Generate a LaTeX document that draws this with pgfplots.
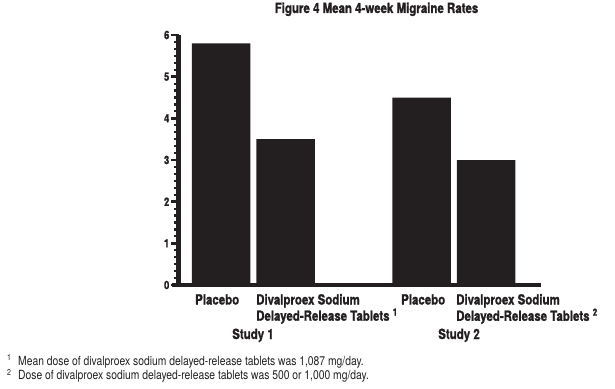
\documentclass[border=0pt]{standalone}
\usepackage{pgfplots}
\pgfplotsset{compat=1.18}
\usepackage{fontspec}
\setmainfont{TeX Gyre Heros}[FakeStretch=0.82, BoldFeatures={FakeBold=1.2}]
\definecolor{barblack}{HTML}{231F20}
\newcommand{\twolines}[2]{\vtop{\baselineskip=14.3pt\hbox{#1}\hbox{#2}}}
\begin{document}
\begin{tikzpicture}
\useasboundingbox (-178.5pt,-103pt) rectangle (436.5pt,285pt);
\begin{axis}[
  at={(0pt,0pt)}, anchor=south west,
  scale only axis, width=362.5pt, height=250pt,
  xmin=0, xmax=362.5, ymin=0, ymax=6,
  clip=false,
  axis x line*=bottom, axis y line*=left,
  axis line style={line width=4.5pt, color=barblack},
  x axis line style={line width=4.5pt, color=barblack},
  y axis line style={line width=4.5pt, color=barblack},
  xtick=\empty,
  ytick={0,1,2,3,4,5,6}, minor y tick num=5,
  tick align=outside,
  major tick length=7.5pt, minor tick length=5pt,
  major tick style={line width=2.6pt, color=barblack},
  minor tick style={line width=2.2pt, color=barblack},
  /pgf/number format/assume math mode=true,
  yticklabel style={font=\bfseries\fontsize{11.5}{12}\selectfont, text=barblack, inner sep=1.5pt},
]
\addplot[ybar, bar width=58.5, fill=barblack, draw=none] coordinates {(42.5,5.8) (107,3.5) (243,4.5) (307.5,3.0)};
\end{axis}
\draw[barblack, line width=4.5pt] (-7pt,0pt) -- (0pt,0pt);
\draw[barblack, line width=4.5pt] (0pt,-2.25pt) -- (0pt,250pt);
\begin{scope}[every node/.style={inner sep=0pt, text=barblack}]
\node[anchor=base] at (198pt,272pt) {\bfseries\fontsize{14}{16}\selectfont Figure 4 Mean 4-week Migraine Rates};
\node[anchor=base west] at (16.5pt,-19.5pt) {\bfseries\fontsize{14}{16}\selectfont Placebo};
\node[anchor=base west] at (77.5pt,-19.5pt) {\bfseries\fontsize{14}{16}\selectfont \twolines{Divalproex Sodium}{Delayed-Release Tablets \textsuperscript{1}}};
\node[anchor=base west] at (222.5pt,-19.5pt) {\bfseries\fontsize{14}{16}\selectfont Placebo};
\node[anchor=base west] at (277.5pt,-19.5pt) {\bfseries\fontsize{14}{16}\selectfont \twolines{Divalproex Sodium}{Delayed-Release Tablets \textsuperscript{2}}};
\node[anchor=base] at (74.5pt,-54pt) {\bfseries\fontsize{14}{16}\selectfont Study 1};
\node[anchor=base] at (280.5pt,-54pt) {\bfseries\fontsize{14}{16}\selectfont Study 2};
\node[anchor=base west] at (-171.5pt,-75.5pt) {\fontsize{8.5}{9}\selectfont 1};
\node[anchor=base west] at (-160.5pt,-80pt) {\fontsize{12.6}{14}\selectfont Mean dose of divalproex sodium delayed-release tablets was 1,087 mg/day.};
\node[anchor=base west] at (-171.5pt,-90pt) {\fontsize{8.5}{9}\selectfont 2};
\node[anchor=base west] at (-160.5pt,-94.5pt) {\fontsize{12.6}{14}\selectfont Dose of divalproex sodium delayed-release tablets was 500 or 1,000 mg/day.};
\end{scope}
\end{tikzpicture}
\end{document}
